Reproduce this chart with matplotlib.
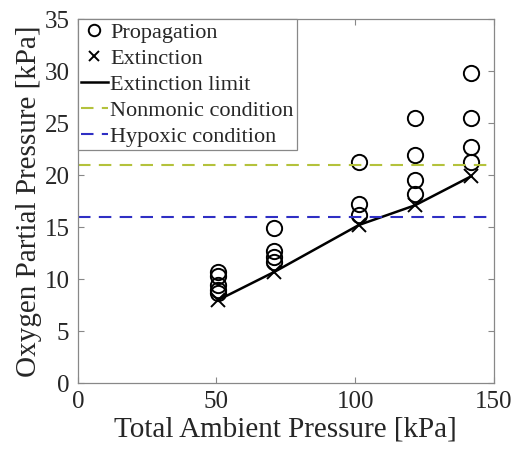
import matplotlib
matplotlib.use("Agg")
import matplotlib.pyplot as plt

plt.rcParams['font.family'] = ['Liberation Serif', 'DejaVu Serif']
plt.rcParams['text.color'] = '#262626'
plt.rcParams['axes.labelcolor'] = '#262626'
plt.rcParams['xtick.labelcolor'] = '#262626'
plt.rcParams['ytick.labelcolor'] = '#262626'

# total ambient pressure groups [kPa]
pressures = [50.7, 70.9, 101.3, 121.6, 141.9]
# propagation points per pressure group
prop_y = [
    [10.7, 10.3, 9.4, 9.0, 8.7],
    [14.9, 12.7, 12.1, 11.6],
    [21.3, 17.2, 16.2],
    [25.5, 21.9, 19.5, 18.2],
    [29.8, 25.5, 22.7, 21.3],
]
# extinction points
ext_y = [8.0, 10.7, 15.2, 17.1, 19.9]
nonmonic = 21.0
hypoxic = 16.0

fig = plt.figure(figsize=(5.15, 4.55), dpi=100)
ax = fig.add_axes([0.151, 0.158, 0.808, 0.8])

px = []
py = []
for p, ys in zip(pressures, prop_y):
    for v in ys:
        px.append(p)
        py.append(v)

ax.plot(px, py, 'o', mfc='none', mec='black', ms=11, mew=1.4, ls='none', label='Propagation')
ax.plot(pressures, ext_y, 'x', color='black', ms=10, mew=1.4, ls='none', label='Extinction')
ax.plot(pressures, ext_y, '-', color='black', lw=1.8, label='Extinction limit')
ax.axhline(nonmonic, color='#b4c23c', ls='--', lw=1.5, dashes=(6, 4), label='Nonmonic condition')
ax.axhline(hypoxic, color='#2f2fc4', ls='--', lw=1.5, dashes=(6, 4), label='Hypoxic condition')

ax.set_xlim(0, 150)
ax.set_ylim(0, 35)
ax.set_xticks([0, 50, 100, 150])
ax.set_yticks([0, 5, 10, 15, 20, 25, 30, 35])
ax.tick_params(direction='in', length=4, width=0.8, color='#888888',
               top=True, right=True, labelsize=18, pad=6)
for s in ax.spines.values():
    s.set_color('#888888')
    s.set_linewidth(0.9)

ax.set_xlabel('Total Ambient Pressure [kPa]', fontsize=21, labelpad=2)
ax.set_ylabel('Oxygen Partial Pressure [kPa]', fontsize=21, labelpad=2)

leg = ax.legend(loc='upper left', fontsize=16, frameon=True, fancybox=False,
                borderaxespad=0, borderpad=0.15, handlelength=1.2,
                handletextpad=0.1, labelspacing=0.24, markerscale=0.75)
leg.get_frame().set_edgecolor('#888888')
leg.get_frame().set_linewidth(0.9)
leg.get_frame().set_alpha(1)

fig.savefig('out.png', dpi=100)
